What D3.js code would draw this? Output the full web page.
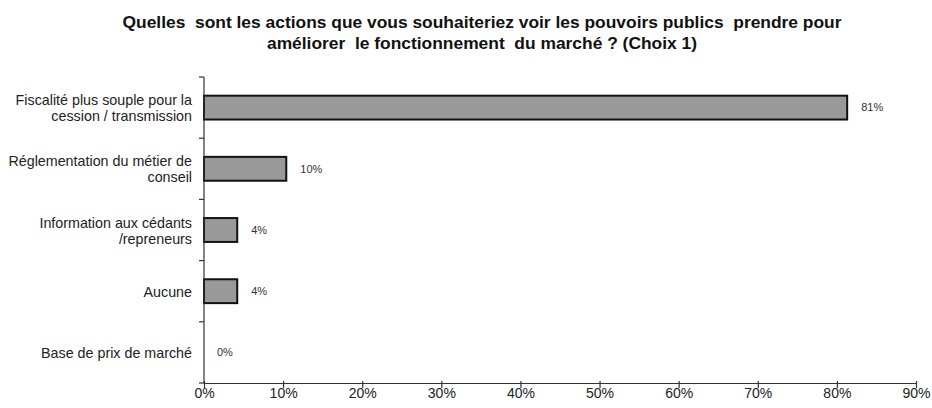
<!DOCTYPE html>
<html>
<head>
<meta charset="utf-8">
<script src="https://cdn.jsdelivr.net/npm/d3@7"></script>
<style>
  body { margin: 0; background: #fff; }
  svg { font-family: "Liberation Sans", Arial, sans-serif; }
</style>
</head>
<body>
<svg width="932" height="408"></svg>
<script>
const categories = [
  ["Fiscalité plus souple pour la", "cession / transmission"],
  ["Réglementation du métier de", "conseil"],
  ["Information aux cédants", "/repreneurs"],
  ["Aucune"],
  ["Base de prix de marché"]
];
const values = [81.3, 10.4, 4.2, 4.2, 0];
const valueLabels = ["81%", "10%", "4%", "4%", "0%"];
const xTicks = [0, 10, 20, 30, 40, 50, 60, 70, 80, 90];
const titleLines = [
  "Quelles  sont les actions que vous souhaiteriez voir les pouvoirs publics  prendre pour",
  "améliorer  le fonctionnement  du marché ? (Choix 1)"
];

const svg = d3.select("svg");
const margin = { top: 77, left: 204, right: 16, bottom: 25 };
const width = 932 - margin.left - margin.right;
const height = 408 - margin.top - margin.bottom;

const g = svg.append("g").attr("transform", `translate(${margin.left},${margin.top})`);

const x = d3.scaleLinear().domain([0, 90]).range([0, width]);
const y = d3.scaleBand().domain(d3.range(categories.length)).range([0, height]).paddingInner(0.61).paddingOuter(0.305);

// title
svg.append("g").selectAll("text")
  .data(titleLines)
  .join("text")
  .attr("x", 482)
  .attr("y", (d, i) => 28 + i * 20.5)
  .attr("text-anchor", "middle")
  .attr("font-weight", "bold")
  .attr("font-size", 17.4)
  .attr("fill", "#111")
  .style("white-space", "pre")
  .text(d => d);

// bars
g.selectAll("rect.bar")
  .data(values)
  .join("rect")
  .attr("class", "bar")
  .attr("x", 0)
  .attr("y", (d, i) => y(i))
  .attr("width", d => x(d))
  .attr("height", y.bandwidth())
  .attr("fill", "#999")
  .attr("stroke", d => d > 0 ? "#111" : "none")
  .attr("stroke-width", 2);

// value labels
g.selectAll("text.val")
  .data(values)
  .join("text")
  .attr("class", "val")
  .attr("x", d => x(d) + (d > 0 ? 14 : 13))
  .attr("y", (d, i) => y(i) + y.bandwidth() / 2)
  .attr("dy", "0.35em")
  .attr("font-size", 11)
  .attr("fill", "#333")
  .text((d, i) => valueLabels[i]);

// y axis
const step = height / categories.length;
g.append("line").attr("x1", 0).attr("x2", 0).attr("y1", 0).attr("y2", height)
  .attr("stroke", "#333").attr("stroke-width", 1.2);
g.selectAll("line.ytick")
  .data(d3.range(categories.length + 1))
  .join("line")
  .attr("class", "ytick")
  .attr("x1", -5).attr("x2", 0)
  .attr("y1", d => d * step).attr("y2", d => d * step)
  .attr("stroke", "#333").attr("stroke-width", 1.2);

// category labels
const cat = g.selectAll("text.cat")
  .data(categories)
  .join("text")
  .attr("class", "cat")
  .attr("text-anchor", "end")
  .attr("font-size", 14.3)
  .attr("fill", "#222")
  .attr("y", (d, i) => y(i) + y.bandwidth() / 2);
cat.selectAll("tspan")
  .data(d => d.map((t, j) => ({ t, j, n: d.length })))
  .join("tspan")
  .attr("x", -12)
  .attr("dy", d => d.j === 0 ? ((-(d.n - 1) * 16) / 2 + 5.5) : 16)
  .text(d => d.t);

// x axis
const xAxis = g.append("g")
  .attr("transform", `translate(0,${height})`)
  .call(d3.axisBottom(x).tickValues(xTicks).tickFormat(d => d + "%").tickSize(5).tickSizeOuter(0));
xAxis.select(".domain").attr("stroke", "#333").attr("stroke-width", 1.2);
xAxis.selectAll(".tick line").attr("stroke", "#333").attr("stroke-width", 1.2).attr("y1", -2);
xAxis.selectAll(".tick text")
  .attr("font-size", 14)
  .attr("font-family", "Liberation Sans, Arial, sans-serif")
  .attr("fill", "#222")
  .attr("dy", "0.85em")
  .attr("y", 3);
</script>
</body>
</html>
